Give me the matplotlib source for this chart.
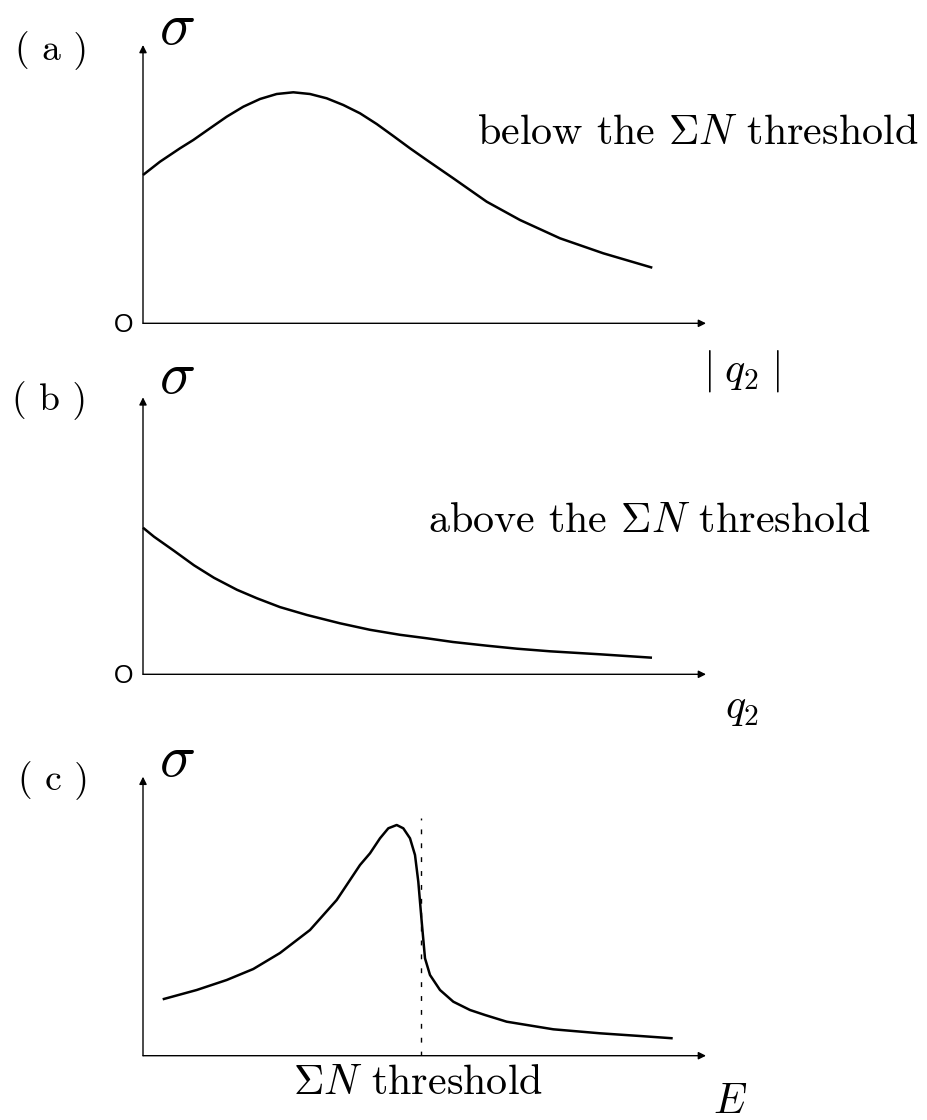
import numpy as np
import matplotlib
matplotlib.use("Agg")
import matplotlib.pyplot as plt

plt.rcParams['mathtext.fontset'] = 'cm'

W, H = 928, 1120

# curve readings, x and sigma in arbitrary units (origin of each panel = 0, 0)
q_a = [0.0, 0.17, 0.37, 0.503, 0.67, 0.837, 1.003, 1.17, 1.337, 1.503, 1.67, 1.837,
       2.003, 2.17, 2.337, 2.503, 2.67, 2.837, 3.103, 3.437, 3.77, 4.17, 4.603, 5.093]
sig_a = [1.483, 1.616, 1.750, 1.833, 1.950, 2.066, 2.166, 2.243, 2.293, 2.310, 2.293,
         2.250, 2.183, 2.100, 1.993, 1.873, 1.750, 1.633, 1.450, 1.216, 1.033, 0.850,
         0.700, 0.556]

q_b = [0.0, 0.11, 0.31, 0.51, 0.71, 0.94, 1.14, 1.37, 1.64, 1.97, 2.27, 2.57, 2.84,
       3.10, 3.44, 3.74, 4.07, 4.57, 5.09]
sig_b = [1.466, 1.376, 1.235, 1.090, 0.965, 0.845, 0.760, 0.672, 0.593, 0.510, 0.445,
         0.395, 0.360, 0.323, 0.286, 0.256, 0.230, 0.200, 0.166]

E_c = [0.197, 0.537, 0.837, 1.103, 1.370, 1.670, 1.937, 2.170, 2.270, 2.370, 2.453,
       2.537, 2.603, 2.670, 2.720, 2.753, 2.787, 2.820, 2.870, 2.970, 3.103, 3.270,
       3.420, 3.637, 4.103, 4.570, 4.970, 5.297]
sig_c = [0.564, 0.657, 0.757, 0.867, 1.027, 1.257, 1.557, 1.907, 2.024, 2.174, 2.274,
         2.307, 2.274, 2.174, 2.007, 1.740, 1.340, 0.974, 0.807, 0.657, 0.540, 0.457,
         0.407, 0.340, 0.264, 0.224, 0.197, 0.174]
E_thr = 2.777
thr_top = 2.377

# panel geometry in pixels: origin y, arrow-tip y
panels = [(323.3, 45.0), (674.3, 397.3), (1055.7, 776.7)]
x0_px, xtip_px = 143.0, 706.0

fig = plt.figure(figsize=(W / 100, H / 100), dpi=100)


def make_axes(oy, ty):
    ax = fig.add_axes([x0_px / W, 1 - oy / H, (xtip_px - x0_px) / W, (oy - ty) / H])
    ax.set_xlim(0, (xtip_px - x0_px) / 100)
    ax.set_ylim(0, (oy - ty) / 100)
    ax.axis('off')
    xmax = ax.get_xlim()[1]
    ymax = ax.get_ylim()[1]
    ap = dict(arrowstyle='-|>', mutation_scale=11, lw=1.0, color='black',
              shrinkA=0, shrinkB=0)
    ax.annotate('', xy=(xmax, 0), xytext=(0, 0), arrowprops=ap, annotation_clip=False)
    ax.annotate('', xy=(0, ymax), xytext=(0, 0), arrowprops=ap, annotation_clip=False)
    return ax


txt = dict(color='black', clip_on=False, va='baseline', ha='left')
rm = dict(family='cmr10')
big = 30.3
sig_fs = 43
lab_fs = 27
line = dict(color='black', lw=1.8, clip_on=False, solid_joinstyle='round',
            solid_capstyle='butt')

# (a)
ax = make_axes(*panels[0])
ax.plot(q_a, sig_a, **line)
ax.text(0.16, 2.79, r'$\sigma$', fontsize=sig_fs, **txt)
ax.text(-1.28, 2.63, '( a )', fontsize=lab_fs, **rm, **txt)
ax.text(3.34, 1.79, r'below the $\Sigma N$ threshold', fontsize=big, **rm, **txt)
ax.text(-0.19, -0.02, 'O', fontsize=18, family='Liberation Sans', va='center',
        ha='center', color='black', clip_on=False)
ax.text(5.60, -0.587, r'$|\;q_2\;|$', fontsize=big, **txt)

# (b)
ax = make_axes(*panels[1])
ax.plot(q_b, sig_b, **line)
ax.text(0.16, 2.81, r'$\sigma$', fontsize=sig_fs, **txt)
ax.text(-1.31, 2.64, '( b )', fontsize=lab_fs, **rm, **txt)
ax.text(2.85, 1.42, r'above the $\Sigma N$ threshold', fontsize=big, **rm, **txt)
ax.text(-0.19, -0.02, 'O', fontsize=18, family='Liberation Sans', va='center',
        ha='center', color='black', clip_on=False)
ax.text(5.82, -0.437, r'$q_2$', fontsize=big, **txt)

# (c)
ax = make_axes(*panels[2])
ax.plot(E_c, sig_c, **line)
ax.plot([E_thr, E_thr], [0, thr_top], color='black', lw=1.0, ls=(0, (3.5, 6.5)))
ax.text(0.16, 2.80, r'$\sigma$', fontsize=sig_fs, **txt)
ax.text(-1.25, 2.66, '( c )', fontsize=lab_fs, **rm, **txt)
ax.text(1.50, -0.383, r'$\Sigma N$ threshold', fontsize=big, **rm, **txt)
ax.text(5.70, -0.573, r'$E$', fontsize=big, **txt)

fig.savefig('out.png', dpi=100, facecolor='white')
